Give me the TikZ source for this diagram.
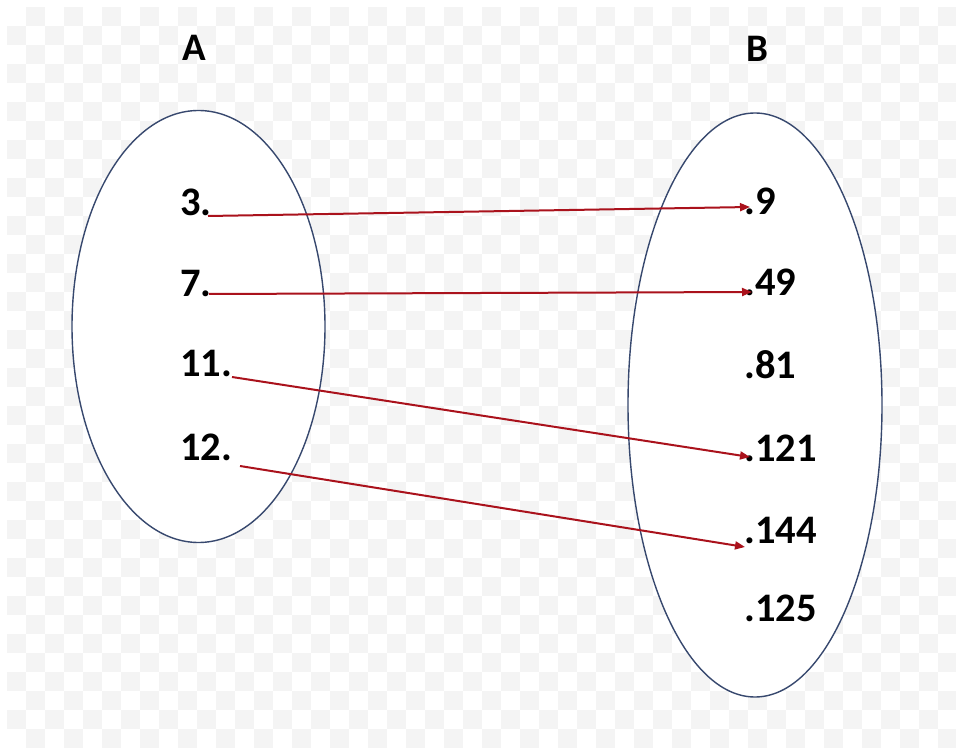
\documentclass[tikz,border=0pt]{standalone}
\usepackage{fontspec}
\setmainfont{Carlito}
\usetikzlibrary{arrows.meta,shapes.geometric}
\definecolor{setblue}{RGB}{55,72,110}
\definecolor{maparrow}{RGB}{170,18,28}
\definecolor{checkgray}{RGB}{244,244,244}
\begin{document}
\begin{tikzpicture}[x=1pt,y=-1pt,
  lbl/.style={font=\fontsize{40.5}{42}\selectfont\bfseries, inner sep=0pt, anchor=base west},
  title/.style={font=\fontsize{39}{41}\selectfont\bfseries, inner sep=0pt, anchor=base},
  setellipse/.style={ellipse, draw=setblue, line width=1.4pt, fill=white, inner sep=0pt},
  maparr/.style={draw=maparrow, line width=2pt, -{Triangle[length=10pt,width=8pt]}}]
\useasboundingbox (0,0) rectangle (956,751);
\fill[white] (0,0) rectangle (956,751);
\foreach \i in {0,...,49}{
  \foreach \j in {0,...,38}{
    \ifodd\numexpr\i+\j\relax
      \fill[checkgray] (7+19*\i,7+19*\j) rectangle ++(19,19);
    \fi
  }
}
% sets
\node[setellipse, minimum width=253pt, minimum height=432pt] (setA) at (198.5,326.5) {};
\node[setellipse, minimum width=254pt, minimum height=584pt] (setB) at (755,405) {};
% titles
\node[title] (tA) at (194,61) {A};
\node[title] (tB) at (757,62) {B};
% domain
\node[lbl] (a3) at (180,216) {3.};
\node[lbl] (a7) at (180,297) {7.};
\node[lbl] (a11) at (180,377) {11.};
\node[lbl] (a12) at (180,460) {12.};
% codomain
\node[lbl] (b9) at (744,215) {.9};
\node[lbl] (b49) at (744,296) {.49};
\node[lbl] (b81) at (744,378) {.81};
\node[lbl] (b121) at (744,461) {.121};
\node[lbl] (b144) at (744,543) {.144};
\node[lbl] (b125) at (744,621) {.125};
% arrow end points
\coordinate (s3) at (208,216);
\coordinate (s7) at (209,294);
\coordinate (s11) at (232,377);
\coordinate (s12) at (240,466);
\coordinate (e9) at (750,207);
\coordinate (e49) at (752,292);
\coordinate (e121) at (750,457);
\coordinate (e144) at (745,547);
\draw[maparr] (s3) -- (e9);
\draw[maparr] (s7) -- (e49);
\draw[maparr] (s11) -- (e121);
\draw[maparr] (s12) -- (e144);
\end{tikzpicture}
\end{document}
